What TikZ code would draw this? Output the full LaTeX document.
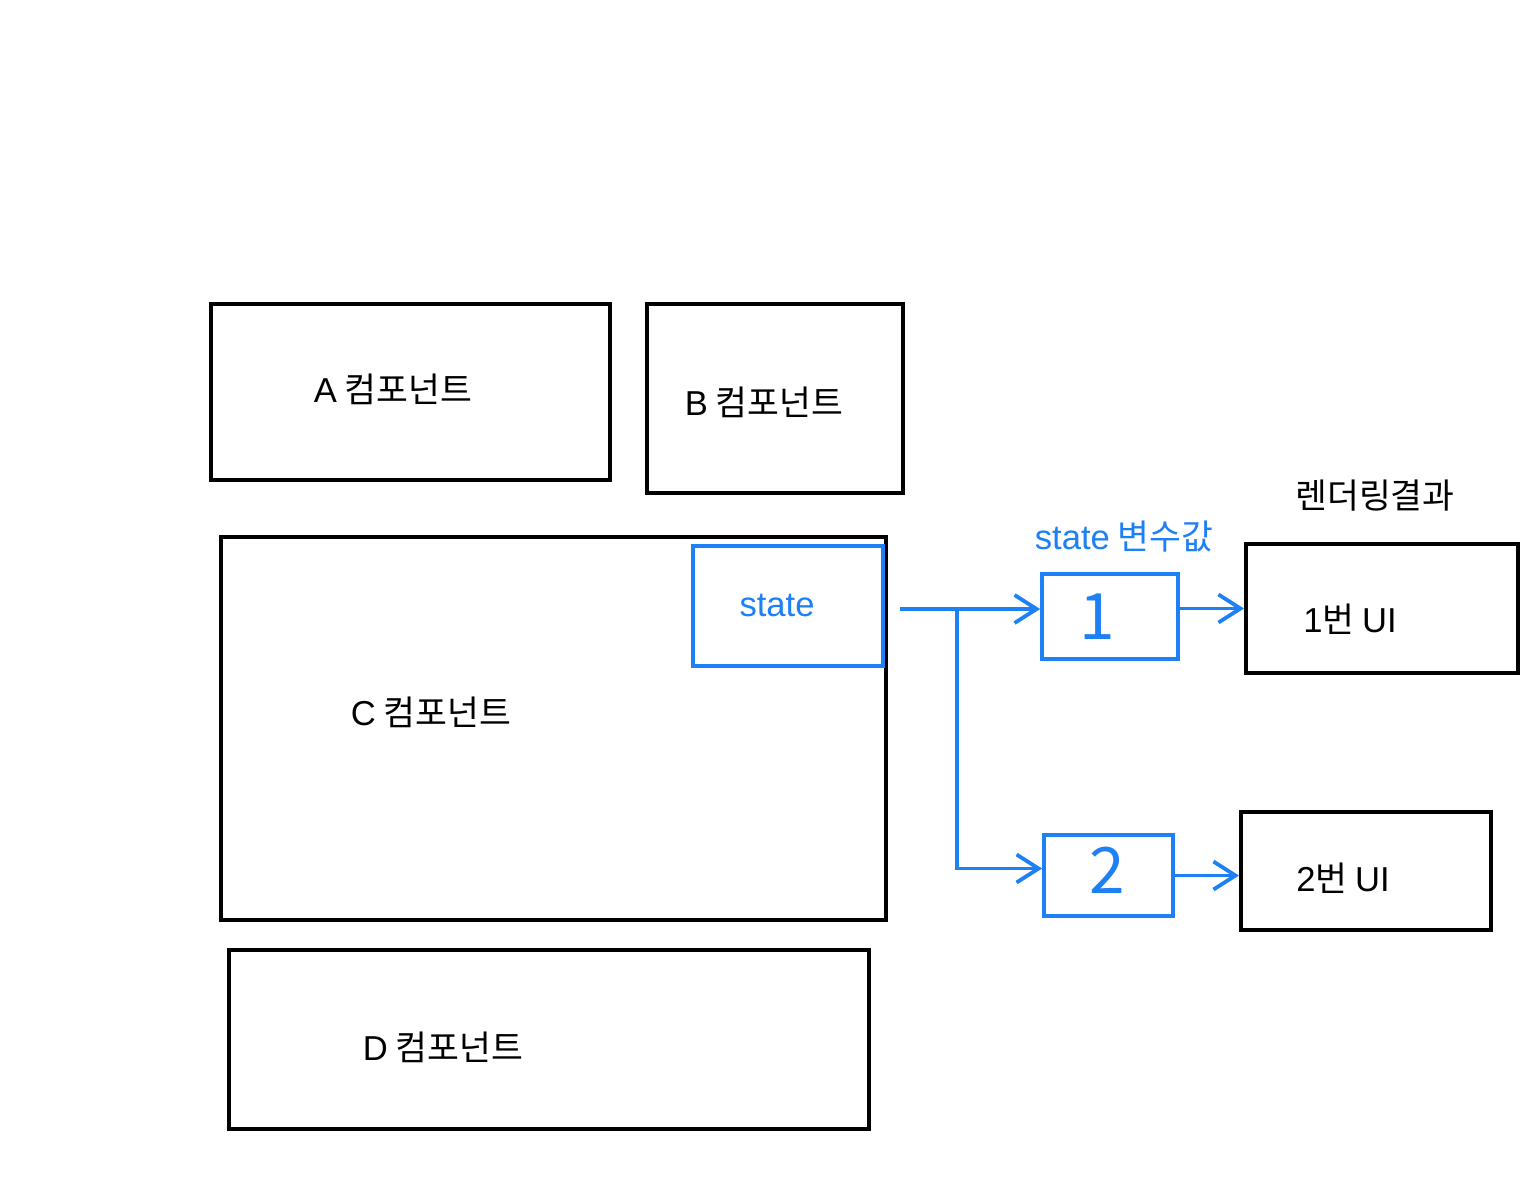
\documentclass[tikz,border=0pt]{standalone}
\usepackage{fontspec}
\setmainfont{Noto Sans CJK KR}
\newfontfamily\latfont{Liberation Sans}
\usetikzlibrary{arrows.meta,fit}
\definecolor{myblue}{RGB}{30,128,245}
\begin{document}
\begin{tikzpicture}[x=0.5pt,y=-0.5pt,
  box/.style={draw=black,line width=2pt,inner sep=0pt},
  bbox/.style={draw=myblue,line width=1.9pt,inner sep=0pt},
  lbl/.style={font=\fontsize{17.3}{20}\selectfont,inner sep=0pt},
  blbl/.style={lbl,text=myblue},
  digit/.style={font=\fontsize{32}{36}\selectfont,text=myblue,inner sep=0pt},
  conn/.style={draw=myblue,line width=1.9pt,-{Straight Barb[length=11pt,width=14pt,line width=1.9pt]}}]
\useasboundingbox (0,0) rectangle (1536,1196);
\fill[white] (0,0) rectangle (1536,1196);
% black boxes
\node[box,fit={(211,304) (610,480)}] (A) {};
\node[box,fit={(647,304) (903,493)}] (B) {};
\node[box,fit={(221,537) (886,920)}] (C) {};
\node[box,fit={(229,950) (869,1129)}] (D) {};
\node[box,fit={(1246,544) (1518,673)}] (ui1) {};
\node[box,fit={(1241,812) (1491,930)}] (ui2) {};
% blue boxes
\node[bbox,fit={(693,546) (883,666)}] (st) {};
\node[bbox,fit={(1042,574) (1178,659)}] (b1) {};
\node[bbox,fit={(1044,835) (1173,916)}] (b2) {};
% labels
\node[lbl] (tA) at (393,389) {{\latfont A} 컴포넌트};
\node[lbl] (tB) at (764,402) {{\latfont B} 컴포넌트};
\node[lbl] (tC) at (431,712) {{\latfont C} 컴포넌트};
\node[lbl] (tD) at (443,1047) {{\latfont D} 컴포넌트};
\node[lbl] (tui1) at (1350,619) {{\latfont 1}번 {\latfont UI}};
\node[lbl] (tui2) at (1343,878) {{\latfont 2}번 {\latfont UI}};
\node[lbl] (tres) at (1375,496) {렌더링결과};
\node[blbl] (tst) at (777,605) {\latfont state};
\node[blbl] (tvar) at (1124,537) {{\latfont state} 변수값};
\node[digit] (d1) at (1097,617) {1};
\node[digit] (d2) at (1107,870) {2};
% connectors
\coordinate (s) at (900,609);
\coordinate (j) at (957,609);
\draw[conn] (s) -- (s -| b1.west);
\draw[conn] (j) |- ([yshift=3.5pt]b2.west);
\draw[conn] (b1.east |- ui1.west) -- (ui1.west);
\draw[conn] (b2.east) -- (b2.east -| ui2.west);
\end{tikzpicture}
\end{document}
